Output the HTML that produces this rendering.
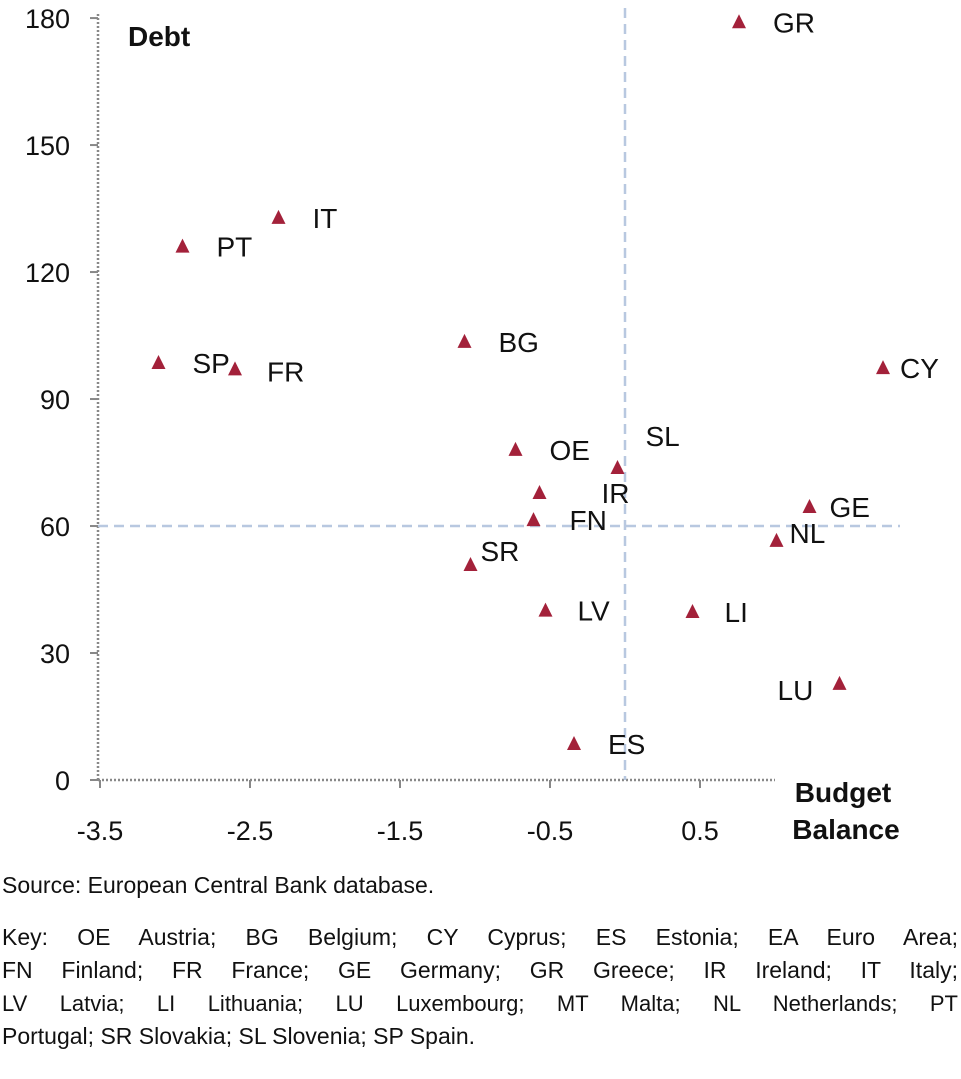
<!DOCTYPE html>
<html><head><meta charset="utf-8"><style>
body{margin:0;background:#fff;width:961px;height:1079px;overflow:hidden;font-family:"Liberation Sans",sans-serif}
svg text{font-family:"Liberation Sans",sans-serif}
.note{position:absolute;left:2px;font-size:23px;color:#111;line-height:33px;width:956px;white-space:nowrap}
.j{text-align:justify;text-align-last:justify;white-space:normal}
</style></head><body>
<svg id="chart" width="961" height="860" style="position:absolute;left:0;top:0"></svg>
<div class="note" style="top:869px">Source: European Central Bank database.</div>
<div>
<div class="note j" style="top:921px">Key: OE Austria; BG Belgium; CY Cyprus; ES Estonia; EA Euro Area;</div>
<div class="note j" style="top:954px">FN Finland; FR France; GE Germany; GR Greece; IR Ireland; IT Italy;</div>
<div class="note j" style="top:987px;font-size:22px">LV Latvia; LI Lithuania; LU Luxembourg; MT Malta; NL Netherlands; PT</div>
<div class="note" style="top:1020px">Portugal; SR Slovakia; SL Slovenia; SP Spain.</div>
</div>
<script>
const countries=["GR","CY","IT","PT","SP","FR","BG","OE","SL","IR","FN","GE","NL","SR","LV","LI","LU","ES"];
const balance=[0.76,1.72,-2.31,-2.95,-3.11,-2.6,-1.07,-0.73,-0.05,-0.57,-0.61,1.23,1.01,-1.03,-0.53,0.45,1.43,-0.34];
const debt=[179,97.3,132.8,126,98.5,97,103.5,78,73.7,67.8,61.4,64.5,56.5,50.8,40,39.7,22.7,8.5];
const labelDx=[34,17,34,34,34,32,34,34,28,62,36,20,13,10,32,32,-62,34];
const labelDy=[0,0,0,0,0,2,0,0,-32,0,0,0,-8,-14,0,0,6,0];
const xTicks=[-3.5,-2.5,-1.5,-0.5,0.5];
const yTicks=[0,30,60,90,120,150,180];
const NS="http://www.w3.org/2000/svg";
const svg=document.getElementById('chart');
const X=v=>625+v*150, Y=v=>780-v*4.233;
function mk(t,a,txt){const e=document.createElementNS(NS,t);for(const k in a)e.setAttribute(k,a[k]);if(txt!=null)e.textContent=txt;svg.appendChild(e);return e;}
let e;
e=mk('line',{x1:98,y1:14,x2:98,y2:780,stroke:'#888','stroke-width':2.5,'stroke-dasharray':'2,2'});

e=mk('line',{x1:98,y1:780,x2:775,y2:780,stroke:'#888','stroke-width':2.5,'stroke-dasharray':'2,2'});

e=mk('line',{x1:X(0),y1:8,x2:X(0),y2:780,stroke:'#b8c8e0','stroke-width':2.5,'stroke-dasharray':'10,6'});

e=mk('line',{x1:98,y1:Y(60),x2:900,y2:Y(60),stroke:'#b8c8e0','stroke-width':2.5,'stroke-dasharray':'10,6'});

yTicks.forEach(v=>{
 e=mk('line',{x1:90,y1:Y(v),x2:98,y2:Y(v),stroke:'#888','stroke-width':2});
 
 e=mk('text',{x:70,y:Y(v)+10,'text-anchor':'end','font-size':27,fill:'#111'},v);
 
});
xTicks.forEach(v=>{
 e=mk('line',{x1:X(v),y1:780,x2:X(v),y2:788,stroke:'#888','stroke-width':2});
 
 e=mk('text',{x:X(v),y:840,'text-anchor':'middle','font-size':27,fill:'#111'},v);
 
});
e=mk('text',{x:128,y:46,'font-size':28,'font-weight':'bold',fill:'#111'},'Debt');

e=mk('text',{x:843,y:802,'text-anchor':'middle','font-size':28,'font-weight':'bold',fill:'#111'},'Budget');

e=mk('text',{x:846,y:839,'text-anchor':'middle','font-size':28,'font-weight':'bold',fill:'#111'},'Balance');

countries.forEach((c,i)=>{
 const x=X(balance[i]),y=Y(debt[i]);
 e=mk('polygon',{points:`${x},${y-8} ${x-7},${y+6} ${x+7},${y+6}`,fill:'#a3213a'});
 
 
 e=mk('text',{x:x+labelDx[i],y:y+labelDy[i]+10,'font-size':28,fill:'#111'},c);
 
 
});
</script>
</body></html>
